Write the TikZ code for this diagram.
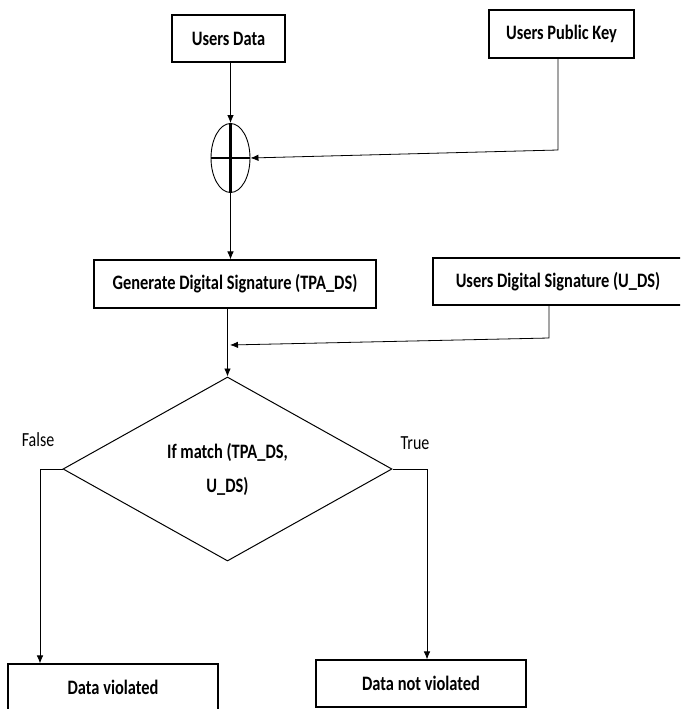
\documentclass[tikz,border=0pt]{standalone}
\usepackage{fontspec}
\setmainfont{Carlito}[FakeStretch=0.8]
\usetikzlibrary{arrows.meta,shapes.geometric}

\begin{document}
\begin{tikzpicture}[x=1pt,y=-1pt,
    box/.style={draw,line width=1.1pt,rectangle,inner sep=0pt,
                font=\fontsize{20.5}{24}\selectfont\bfseries},
    arr/.style={line width=0.8pt,-{Latex[length=8pt,width=6.5pt]}},
    plusline/.style={line width=2.6pt}]
\useasboundingbox (0,0) rectangle (680,709);
\clip (0,0) rectangle (680,709);
            % Boxes
\node[box,minimum width=113pt,minimum height=47pt] (usrdata) at (228.5,38.5) {Users Data};
\node[box,minimum width=145pt,minimum height=48pt] (pubkey) at (561.5,34) {Users Public Key};
\node[draw,line width=0.9pt,ellipse,inner sep=0pt,minimum width=39pt,minimum height=69pt] (xor) at (230.5,158) {};
\node[box,minimum width=282pt,minimum height=48pt] (gends) at (235,284) {Generate Digital Signature (TPA\_DS)};
\node[box,minimum width=250pt,minimum height=47pt] (uds) at (558,281.5) {Users Digital Signature (U\_DS)};
\node[draw,line width=1pt,diamond,aspect=1.79,inner sep=0pt,minimum width=329pt,minimum height=184pt,
      align=center,font=\fontsize{20.5}{34}\selectfont\bfseries] (match) at (227.5,469) {If match (TPA\_DS,\\U\_DS)};
\node[box,minimum width=210pt,minimum height=47pt] (viol) at (113,687.5) {Data violated};
\node[box,minimum width=210pt,minimum height=47pt] (notviol) at (421,683.5) {Data not violated};
            % Labels
\node[font=\fontsize{20}{24}\selectfont] (lfalse) at (38,440) {False};
\node[font=\fontsize{20}{24}\selectfont] (ltrue) at (415,443) {True};
            % Bends
\coordinate (pkc) at (558,150);
\coordinate (udc) at (549,338);
\coordinate (udj) at (230,345);
\coordinate (fc) at (40,469);
\coordinate (tc) at (427,469);
%Plus sign
\draw[plusline] (xor.north) -- (xor.south);
\draw[plusline] (xor.west) -- (xor.east);
%Connectors
\draw[arr] (xor.north |- usrdata.south) -- (xor.north);
\draw[arr] (pkc |- pubkey.south) -- (pkc) -- (xor.east);
\draw[arr] (xor.south) -- (xor.south |- gends.north);
\draw[arr] (match.north |- gends.south) -- (match.north);
\draw[arr] (udc |- uds.south) -- (udc) -- (udj);
\draw[arr] (match.west) -- (fc) -- (fc |- viol.north);
\draw[arr] (match.east) -- (tc) -- (tc |- notviol.north);
\end{tikzpicture}
\end{document}
